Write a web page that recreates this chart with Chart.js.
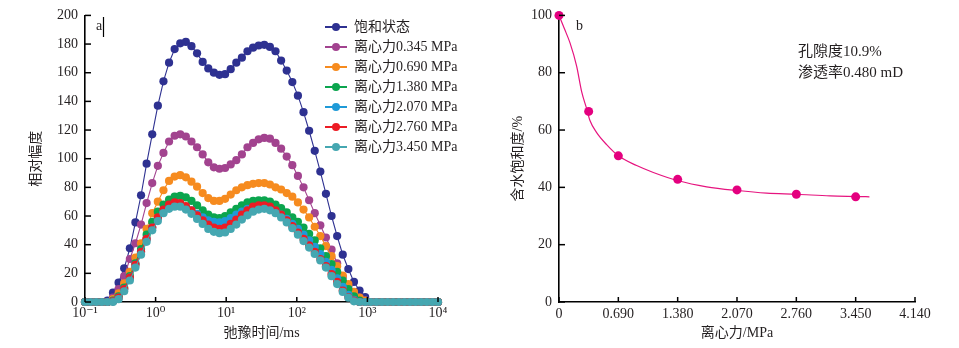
<!DOCTYPE html>
<html>
<head>
<meta charset="utf-8">
<script src="https://cdn.jsdelivr.net/npm/chart.js@4.4.0/dist/chart.umd.min.js"></script>
<style>
body{margin:0;background:#fff;}
#wrap{position:relative;width:959px;height:348px;}
#left{position:absolute;left:0;top:0;}
#right{position:absolute;left:480px;top:0;}
</style>
</head>
<body>
<div id="wrap">
<canvas id="left" width="480" height="348"></canvas>
<canvas id="right" width="479" height="348"></canvas>
</div>
<script>
// ---- data: T2 spectrum (panel a) ----
const t2 = [0.1,0.12,0.144,0.173,0.208,0.249,0.299,0.359,0.432,0.518,0.622,0.746,0.896,1.076,1.292,1.551,1.861,2.235,2.683,3.221,3.866,4.642,5.572,6.690,8.031,9.641,11.58,13.90,16.68,20.03,24.04,28.86,34.65,41.60,49.94,59.95,71.97,86.40,103.7,124.5,149.5,179.5,215.4,258.6,310.5,372.8,447.5,537.2,645.0,774.3,929.5,1116,1340,1608,1931,2318,2783,3341,4010,4815,5780,6939,8330,10000];

const saturated = [0,0,0,0,1, 6.5,13.5,23.5,37.5,55.5, 74.5,96.5,117,137,154, 167,176.5,180.5,181.5,178.5, 173.5,167.5,163,160,158.5, 159,162.5,167,170.5,175, 177.5,179,179.5,178,175, 168.5,161.5,153.5,144,132.5, 119.5,105.5,91,75.5,60, 46,33,23,14,8, 3.5, 0,0,0,0,0,0,0,0,0,0,0,0,0];
const cf0345 = [0,0,0,0,0, 3,9,18,30,41, 54,69,83,95,104, 112,116,117,115.5,112, 108,103,97.5,94,93, 93.5,96,99,103,108, 111,113.5,114.5,114,111, 107,101.5,95.5,88,80, 71,62,53.5,45,36.5, 27,17.5,11,6,3, 1, 0,0,0,0,0,0,0,0,0,0,0,0,0];
const cf0690 = [0,0,0,0,0, 2,6,13,21,31, 41,51,62,70,78, 84.5,87.5,88.5,87,84, 80.5,76,72.5,70.5,70.5, 72,75,78,80,81.5, 82.5,83,83,82,80, 78.5,76,73.5,69.5,64.5, 59,52.5,46,39,32, 25,18.5,12.5,7,3, 1, 0,0,0,0,0,0,0,0,0,0,0,0,0];
const cf1380 = [0,0,0,0,0, 1,4,10,18,27, 37,47,56,63,68, 71.5,73.5,74,73,70.5, 67.5,64,61,59,58.5, 60,62.5,65,67.5,69.5, 70.5,71,71,70,68, 65.5,62.5,59,56,52, 47.5,43,37.5,32,26.5, 21,15,9,4,1, 0, 0,0,0,0,0,0,0,0,0,0,0,0,0];
const cf2070 = [0,0,0,0,0, 0.5,3,9,17,26, 35,44,52,58.5,63, 66,67.5,67.5,66,64, 61.5,59,57,56,55.5, 56.5,58.5,61,63,65, 66,66.5,66.5,65.5,63.5, 61,58,54.5,51,47, 43,38.5,33.5,28,22.5, 16.5,10.5,5,1.5,0, 0, 0,0,0,0,0,0,0,0,0,0,0,0,0];
const cf2760 = [0,0,0,0,0, 0.5,3,9,17,26, 35,44,52,59,64.5, 68,69.5,69,67,64, 60.5,57,54,52,51, 52,54.5,57.5,61,64, 66.5,67.5,67.5,66.5,64, 61,57,53,48.5,44, 39.5,35,30,25,19.5, 14,8,3.5,1,0, 0, 0,0,0,0,0,0,0,0,0,0,0,0,0];
const cf3450 = [0,0,0,0,0, 0,2,7.5,15,24, 33,42,50,56.5,62, 65,66.5,66.5,64.5,61.5, 58,54.5,51,49,48, 48.5,51,54,57.5,60.5, 63,64.5,65,64,62, 59,55.5,51.5,47,42.5, 38,33.5,29,24,18, 12.5,7,3,0.5,0, 0, 0,0,0,0,0,0,0,0,0,0,0,0,0];

const seriesNames = ["饱和状态","离心力0.345 MPa","离心力0.690 MPa","离心力1.380 MPa","离心力2.070 MPa","离心力2.760 MPa","离心力3.450 MPa"];
const seriesColors = ["#2e3191","#a2438f","#f68b1f","#0ba54e","#1f9ad7","#ec1c24","#45a7b1"];
const seriesData = [saturated,cf0345,cf0690,cf1380,cf2070,cf2760,cf3450];

const t2Ticks = [0.1,1,10,100,1000,10000];
const t2TickLabels = ["10⁻¹","10⁰","10¹","10²","10³","10⁴"];

// ---- data: saturation vs centrifugal force (panel b) ----
const force = [0,0.345,0.690,1.380,2.070,2.760,3.450];
const waterSat = [100,66.5,51,42.8,39.1,37.6,36.7];
const fitForce = [0,0.062,0.128,0.205,0.264,0.322,0.36,0.438,0.554,0.69,0.903,1.097,1.387,1.717,2.073,2.415,2.764,3.152,3.482,3.61];
const fitSat = [100,95.4,90.4,82.3,73.3,67.4,63.3,59.1,54.9,51,47.6,45.2,42.3,40.2,38.9,38,37.6,37,36.8,36.7];
const forceTicks = [0,0.69,1.38,2.07,2.76,3.45,4.14];
const forceTickLabels = ["0","0.690","1.380","2.070","2.760","3.450","4.140"];

const fam = '"Liberation Serif","DejaVu Serif","Noto Sans CJK SC",serif';
const ink = "#231f20";

// inward tick marks
const inTicks = {
  id:"inTicks",
  afterDraw(chart){
    const ctx=chart.ctx, a=chart.chartArea, x=chart.scales.x, y=chart.scales.y;
    ctx.save();
    ctx.strokeStyle="#000";
    ctx.lineWidth=1.5;
    x.ticks.forEach(t=>{
      const px=x.getPixelForValue(t.value);
      ctx.beginPath(); ctx.moveTo(px,a.bottom); ctx.lineTo(px,a.bottom-5); ctx.stroke();
    });
    y.ticks.forEach(t=>{
      const py=y.getPixelForValue(t.value);
      ctx.beginPath(); ctx.moveTo(a.left,py); ctx.lineTo(a.left+6,py); ctx.stroke();
    });
    ctx.restore();
  }
};

// legend drawn inside the plot (panel a)
const innerLegend = {
  id:"innerLegend",
  afterDraw(chart){
    const ctx=chart.ctx;
    ctx.save();
    chart.data.datasets.forEach((ds,i)=>{
      const y=27+i*20;
      ctx.strokeStyle=ds.borderColor;
      ctx.lineWidth=2;
      ctx.beginPath(); ctx.moveTo(325,y); ctx.lineTo(347,y); ctx.stroke();
      ctx.fillStyle=ds.borderColor;
      ctx.beginPath(); ctx.arc(336,y,4,0,Math.PI*2); ctx.fill();
      ctx.fillStyle=ink;
      ctx.font="14px "+fam;
      ctx.textAlign="left";
      ctx.textBaseline="middle";
      ctx.fillText(ds.label,354,y);
    });
    // panel letter
    ctx.fillText("a",96,26);
    ctx.strokeStyle="#000";
    ctx.lineWidth=1.2;
    ctx.beginPath(); ctx.moveTo(103.5,17); ctx.lineTo(103.5,37); ctx.stroke();
    ctx.restore();
  }
};

const notes = {
  id:"notes",
  afterDraw(chart){
    const ctx=chart.ctx;
    ctx.save();
    ctx.fillStyle=ink;
    ctx.textAlign="left";
    ctx.textBaseline="middle";
    ctx.font="14px "+fam;
    ctx.fillText("b",96,26);
    ctx.font="15px "+fam;
    ctx.fillText("孔隙度10.9%",318,52);
    ctx.fillText("渗透率0.480 mD",318,73);
    ctx.restore();
  }
};

function axisFont(){ return {family:fam,size:14}; }

// Left chart
new Chart(document.getElementById("left"),{
  type:"line",
  data:{
    datasets:seriesData.map((s,i)=>({
      label:seriesNames[i],
      data:t2.map((x,j)=>({x:x,y:s[j]})),
      borderColor:seriesColors[i],
      backgroundColor:seriesColors[i],
      borderWidth:1.1,
      pointRadius:4.1,
      pointBorderWidth:0,
      pointHoverRadius:4.1,
      tension:0,
      clip:false,
      order:6-i
    }))
  },
  options:{
    responsive:false,
    animation:false,
    events:[],
    layout:{padding:{left:0,right:42,top:14,bottom:0}},
    plugins:{legend:{display:false},tooltip:{enabled:false}},
    scales:{
      x:{
        type:"logarithmic",
        min:0.1,max:10000,
        afterBuildTicks:s=>{ s.ticks=t2Ticks.map(v=>({value:v})); },
        afterFit:s=>{ s.height=46; },
        grid:{display:false,drawTicks:false},
        border:{display:true,color:"#000",width:1.6},
        ticks:{autoSkip:false,maxRotation:0,padding:3,color:ink,font:axisFont(),
          callback:(v,i)=>t2TickLabels[i]},
        title:{display:true,text:"弛豫时间/ms",color:ink,font:axisFont(),padding:{top:0,bottom:6.6}}
      },
      y:{
        min:0,max:200,
        ticks:{stepSize:20,padding:7,color:ink,font:axisFont()},
        afterFit:s=>{ s.width=85; },
        grid:{display:false,drawTicks:false},
        border:{display:true,color:"#000",width:1.6},
        title:{display:true,text:"相对幅度",color:ink,font:axisFont(),padding:{top:27.6,bottom:0}}
      }
    }
  },
  plugins:[inTicks,innerLegend]
});

// Right chart
new Chart(document.getElementById("right"),{
  type:"scatter",
  data:{
    datasets:[
      {
        label:"实测",
        data:force.map((x,i)=>({x:x,y:waterSat[i]})),
        backgroundColor:"#e4007f",
        borderColor:"#e4007f",
        pointRadius:4.5,
        pointBorderWidth:0,
        clip:false,
        order:0
      },
      {
        label:"拟合",
        data:fitForce.map((x,i)=>({x:x,y:fitSat[i]})),
        showLine:true,
        borderColor:"#e6147f",
        borderWidth:1.2,
        pointRadius:0,
        cubicInterpolationMode:"monotone",
        clip:false,
        order:1
      }
    ]
  },
  options:{
    responsive:false,
    animation:false,
    events:[],
    layout:{padding:{left:0,right:44,top:14.7,bottom:0}},
    plugins:{legend:{display:false},tooltip:{enabled:false}},
    scales:{
      x:{
        type:"linear",
        min:0,max:4.14,
        afterBuildTicks:s=>{ s.ticks=forceTicks.map(v=>({value:v})); },
        afterFit:s=>{ s.height=46; },
        grid:{display:false,drawTicks:false},
        border:{display:true,color:"#000",width:1.6},
        ticks:{autoSkip:false,maxRotation:0,padding:4,color:ink,font:axisFont(),
          callback:(v,i)=>forceTickLabels[i]},
        title:{display:true,text:"离心力/MPa",color:ink,font:axisFont(),padding:{top:0,bottom:6.6}}
      },
      y:{
        min:0,max:100,
        ticks:{stepSize:20,padding:7,color:ink,font:axisFont()},
        afterFit:s=>{ s.width=79; },
        grid:{display:false,drawTicks:false},
        border:{display:true,color:"#000",width:1.6},
        title:{display:true,text:"含水饱和度/%",color:ink,font:axisFont(),padding:{top:29.6,bottom:0}}
      }
    }
  },
  plugins:[inTicks,notes]
});
</script>
</body>
</html>
